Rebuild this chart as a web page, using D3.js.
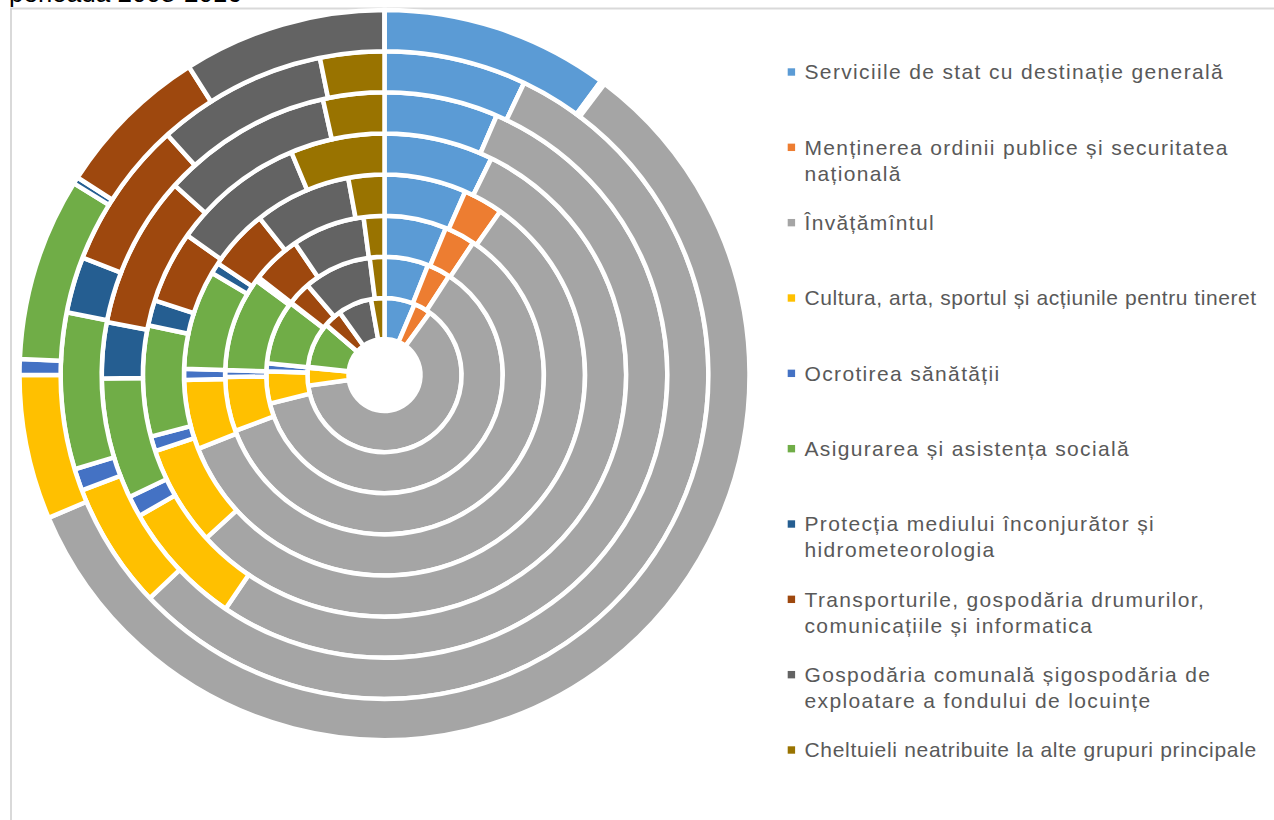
<!DOCTYPE html>
<html>
<head>
<meta charset="utf-8">
<script src="https://cdn.jsdelivr.net/npm/d3@7"></script>
<style>
  body { margin: 0; background: #fff; }
  svg { display: block; font-family: "Liberation Sans", Arial, sans-serif; }
</style>
</head>
<body>
<svg id="chart" width="1274" height="820"></svg>
<script>
// categories (legend lines) and Excel palette
const categories = [
    ["Serviciile de stat cu destinație generală"],
    ["Menținerea ordinii publice și securitatea", "națională"],
    ["Învățămîntul"],
    ["Cultura, arta, sportul și acțiunile pentru tineret"],
    ["Ocrotirea sănătății"],
    ["Asigurarea și asistența socială"],
    ["Protecția mediului înconjurător și", "hidrometeorologia"],
    ["Transporturile, gospodăria drumurilor,", "comunicațiile și informatica"],
    ["Gospodăria comunală șigospodăria de", "exploatare a fondului de locuințe"],
    ["Cheltuieli neatribuite la alte grupuri principale"]
];
const colors = ["#5b9bd5", "#ed7d31", "#a5a5a5", "#ffc000", "#4472c4",
                "#70ad47", "#255e91", "#9e480e", "#636363", "#997300"];

// shares (%) per ring, innermost first, categories in legend order
const ring1 = [6.4, 3.6, 62.8, 3.7, 0.2, 9.6, 0.0, 3.8, 7.1, 2.8];
const ring2 = [6.0, 3.2, 61.9, 4.4, 1.1, 8.8, 0.1, 3.2, 9.3, 2.0];
const ring3 = [6.3, 3.1, 59.9, 5.5, 0.7, 9.6, 0.4, 5.0, 7.4, 2.1];
const ring4 = [6.6, 3.2, 59.2, 5.6, 0.9, 8.0, 0.9, 4.9, 7.8, 2.9];
const ring5 = [7.3, 0.0, 55.9, 6.7, 1.0, 7.4, 1.7, 4.8, 8.9, 6.3];
const ring6 = [6.5, 0.0, 53.0, 7.2, 1.2, 6.9, 3.2, 8.7, 9.8, 3.5];
const ring7 = [7.1, 0.0, 55.8, 6.3, 1.1, 7.8, 2.8, 7.4, 8.5, 3.2];
const ring8 = [10.1, 0.2, 58.3, 6.4, 0.7, 8.1, 0.3, 6.9, 9.0, 0.0];
const rings = [ring1, ring2, ring3, ring4, ring5, ring6, ring7, ring8];

const svg = d3.select("#chart");

// title sits above the crop, only its bottom edge shows
svg.append("text")
    .attr("x", 9).attr("y", 1.5)
    .attr("font-size", 26).attr("fill", "#000")
    .text("perioada 2008-2016");
svg.append("rect")
    .attr("x", 11).attr("y", 8.5)
    .attr("width", 1290).attr("height", 830)
    .attr("fill", "none").attr("stroke", "#d9d9d9").attr("stroke-width", 2);

const cx = 384.5, cy = 375;
const radius = d3.scaleBand()
    .domain(d3.range(rings.length))
    .range([36, 365]);

const pie = d3.pie().sort(null).value(d => d);
const arc = d3.arc();

const donut = svg.append("g").attr("transform", `translate(${cx},${cy})`);

rings.forEach(function(vals, i) {
    donut.append("g")
        .selectAll("path")
        .data(pie(vals))
        .enter()
        .append("path")
        .attr("d", d => arc({
            innerRadius: radius(i),
            outerRadius: radius(i) + radius.bandwidth(),
            startAngle: d.startAngle,
            endAngle: d.endAngle
        }))
        .attr("fill", (d, j) => colors[j])
        .attr("stroke", "#fff")
        .attr("stroke-width", 4.5);
});

// legend
const legendY = d3.scaleLinear().domain([0, categories.length - 1]).range([72, 750]);
const legendX = 804.5, legendMaxW = 453;
const legend = svg.append("g");

categories.forEach(function(lines, i) {
    legend.append("rect")
        .attr("x", 787.7)
        .attr("y", legendY(i) - 3.7)
        .attr("width", 7.4)
        .attr("height", 7.4)
        .attr("fill", colors[i]);
    let t = legend.append("text")
        .attr("font-size", 21)
        .attr("letter-spacing", 1.35)
        .attr("fill", "#595959");
    lines.forEach(function(line, k) {
        let ts = t.append("tspan")
            .attr("x", legendX)
            .attr("y", legendY(i) + k * 26)
            .attr("dy", "0.35em")
            .text(line);
        // squeeze lines that would run past the legend box
        if (ts.node().getComputedTextLength() > legendMaxW) {
            ts.attr("textLength", legendMaxW).attr("lengthAdjust", "spacing");
        }
    });
});
</script>
</body>
</html>
